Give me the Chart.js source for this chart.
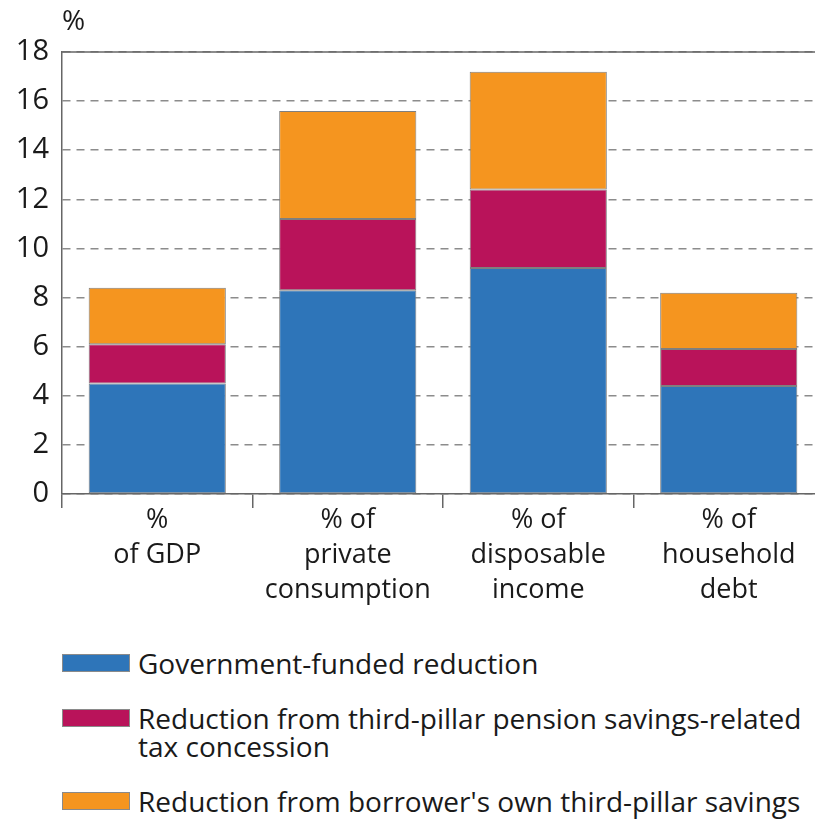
<!DOCTYPE html>
<html>
<head>
<meta charset="utf-8">
<script src="https://cdn.jsdelivr.net/npm/chart.js@4/dist/chart.umd.min.js"></script>
<style>
  body { margin: 0; background: #fff; overflow: hidden; font-family: "Open Sans", sans-serif; color: #1a1a1a; }
  #wrap { position: relative; width: 830px; height: 620px; }
  #legend { position: absolute; left: 62px; top: 649px; font-size: 28px; line-height: 28px; }
  .item { display: flex; align-items: flex-start; margin-bottom: 27px; }
  .swatch { width: 68px; height: 18px; margin-top: 5px; margin-right: 8px; flex: none; box-sizing: border-box; border: 1px solid #8a8a8a; }
  .text { width: 690px; }
</style>
</head>
<body>
<div id="wrap"><canvas id="reductionChart" width="830" height="620"></canvas></div>
<div id="legend"></div>
<script>
// Chart data
const categories = [['%', 'of GDP'], ['% of', 'private', 'consumption'], ['% of', 'disposable', 'income'], ['% of', 'household', 'debt']];
const governmentFunded = [4.5, 8.3, 9.2, 4.4];
const pensionTaxConcession = [1.6, 2.9, 3.2, 1.5];
const ownSavings = [2.3, 4.4, 4.8, 2.3];
const seriesLabels = [
    'Government-funded reduction',
    'Reduction from third-pillar pension savings-related tax concession',
    'Reduction from borrower\'s own third-pillar savings'
];
const seriesColors = ['#2e75b9', '#b9135a', '#f5951f'];
const yTicks = [0, 2, 4, 6, 8, 10, 12, 14, 16, 18];

const FONT = '"Open Sans", sans-serif';

/**
 * Draws the "%" unit above the y axis and the solid top border line.
 */
const frameExtras = {
    id: 'frameExtras',
    afterDraw(chart) {
        const { ctx, chartArea } = chart;
        ctx.save();
        ctx.strokeStyle = '#666';
        ctx.lineWidth = 1.5;
        ctx.beginPath();
        ctx.moveTo(chartArea.left, chartArea.top);
        ctx.lineTo(chartArea.right, chartArea.top);
        ctx.stroke();
        ctx.fillStyle = '#1a1a1a';
        ctx.font = '28px ' + FONT;
        ctx.textBaseline = 'middle';
        ctx.textAlign = 'left';
        ctx.fillText('%', chartArea.left, 22);
        ctx.restore();
    }
};

function buildDatasets() {
    const values = [governmentFunded, pensionTaxConcession, ownSavings];
    return values.map((data, i) => ({
        label: seriesLabels[i],
        data: data,
        backgroundColor: seriesColors[i],
        borderColor: '#7f7f7f',
        borderWidth: 1,
        borderSkipped: false,
        categoryPercentage: 1,
        barPercentage: 0.72
    }));
}

function buildLegend() {
    const legend = document.getElementById('legend');
    seriesLabels.forEach((label, i) => {
        const item = document.createElement('div');
        item.className = 'item';
        const swatch = document.createElement('div');
        swatch.className = 'swatch';
        swatch.style.background = seriesColors[i];
        const text = document.createElement('div');
        text.className = 'text';
        text.textContent = label;
        item.appendChild(swatch);
        item.appendChild(text);
        legend.appendChild(item);
    });
}

const ctx = document.getElementById('reductionChart').getContext('2d');
new Chart(ctx, {
    type: 'bar',
    data: { labels: categories, datasets: buildDatasets() },
    options: {
        responsive: false,
        animation: false,
        layout: { padding: { top: 52, right: 6, bottom: 0, left: 0 } },
        plugins: { legend: { display: false }, tooltip: { enabled: false } },
        scales: {
            x: {
                stacked: true,
                grid: { offset: true, drawOnChartArea: false, drawTicks: true, tickLength: 14, color: '#666', lineWidth: 1.5 },
                border: { color: '#666', width: 1.5 },
                ticks: { color: '#1a1a1a', padding: -5, maxRotation: 0, autoSkip: false, font: { family: FONT, size: 27, lineHeight: 1.3 } },
                afterFit(scale) { scale.height = 126; }
            },
            y: {
                stacked: true,
                min: 0,
                max: 18,
                afterBuildTicks(scale) { scale.ticks = yTicks.map(v => ({ value: v })); },
                grid: { color: '#8c8c8c', lineWidth: 1.5, drawTicks: false },
                border: { color: '#666', width: 1.5, dash: [8, 6] },
                ticks: { color: '#1a1a1a', padding: 13, font: { family: FONT, size: 29 } },
                afterFit(scale) { scale.width = 62; }
            }
        }
    },
    plugins: [frameExtras]
});

buildLegend();
</script>
</body>
</html>
